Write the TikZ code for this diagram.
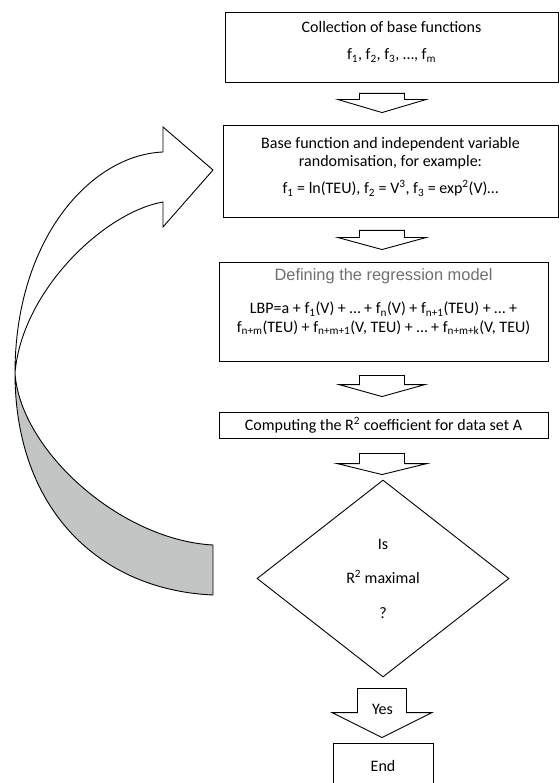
\documentclass[tikz,border=0pt]{standalone}
\usepackage{fontspec}
\setmainfont{Carlito}
\newfontfamily\arialfont{Liberation Sans}
\usetikzlibrary{calc,shapes.geometric}
\definecolor{RibbonGray}{HTML}{C3C5C4}
\definecolor{TitleGray}{HTML}{6F6F6F}

\tikzset{
  flowbox/.style={draw,line width=.9pt,inner sep=0pt},
  flowtext/.style={align=center,inner sep=0pt,font=\fontsize{16}{18.5}\selectfont},
  blockarrow/.style={draw,line width=.9pt,fill=white,line join=miter},
  ribbon/.style={draw,line width=.9pt,line join=miter},
}

% fat arrow between two nodes: [shaft half]{from}{to}{gap below}{gap above}{head length}{head half}
\newcommand{\flowarrow}[7][22.5pt]{%
  \draw[blockarrow] let \p1=(#2.south), \p2=(#3.north), \p3=(axis) in
    (\x3-#1,\y1-#4) -- (\x3+#1,\y1-#4) -- (\x3+#1,\y2+#5+#6)
    -- (\x3+#7,\y2+#5+#6) -- (\x3,\y2+#5) -- (\x3-#7,\y2+#5+#6)
    -- (\x3-#1,\y2+#5+#6) -- cycle;}

\begin{document}
\begin{tikzpicture}[x=1pt,y=-1pt]
  \useasboundingbox (0,0) rectangle (559,783);
  \coordinate (axis) at (382,0);

  % boxes
  \node[flowbox,minimum width=333,minimum height=70] (collect) at (391.5,47) {};
  \node[flowtext] (collecttext) at (391.5,42)
    {Collection of base functions\\[8.5pt]
     f\textsubscript{1}, f\textsubscript{2}, f\textsubscript{3}, …, f\textsubscript{m}};

  \node[flowbox,minimum width=335,minimum height=92] (random) at (390.5,171) {};
  \node[flowtext] (randomtext) at (390.5,167)
    {Base function and independent variable\\
     randomisation, for example:\\[8.5pt]
     f\textsubscript{1} = ln(TEU), f\textsubscript{2} = V\textsuperscript{3},
     f\textsubscript{3} = exp\textsuperscript{2}(V)…};

  \node[flowbox,minimum width=329,minimum height=99] (model) at (383.5,311.5) {};
  \node[flowtext] (modeltext) at (383.5,302)
    {{\arialfont\fontsize{16.4}{18.5}\selectfont\color{TitleGray}Defining the regression model}\\[14.5pt]
     LBP=a + f\textsubscript{1}(V) + … + f\textsubscript{n}(V) + f\textsubscript{n+1}(TEU) + … +\\
     f\textsubscript{n+m}(TEU) + f\textsubscript{n+m+1}(V, TEU) + … + f\textsubscript{n+m+k}(V, TEU)};

  \node[flowbox,flowtext,minimum width=329,minimum height=26] (rsq) at (383.5,425)
    {Computing the R\textsuperscript{2} coefficient for data set A};

  \node[flowbox,flowtext,diamond,minimum width=252,minimum height=197] (decide) at (383,578.5)
    {Is\\[16pt]R\textsuperscript{2} maximal\\[16pt]?};

  \node[flowbox,flowtext,minimum width=100,minimum height=46] (stop) at (383,766) {End};

  % fat arrows
  \flowarrow{collect}{random}{11pt}{12pt}{13pt}{44pt}
  \flowarrow{random}{model}{13pt}{12pt}{12pt}{44pt}
  \flowarrow{model}{rsq}{14pt}{15pt}{12pt}{43pt}
  \flowarrow{rsq}{decide}{15pt}{5pt}{11pt}{45pt}
  \flowarrow[24.5pt]{decide}{stop}{11pt}{5pt}{25pt}{50pt}
  \node[flowtext] (yes) at (382.5,709) {Yes};

  % loop back ribbon
  \draw[ribbon,fill=white] (163,152) -- (163,127) -- (213,170) -- (163,227) -- (163,202)
    .. controls (105,212) and (22,290) .. (15,373)
    .. controls (15,240) and (90,155) .. (163,152) -- cycle;
  \draw[ribbon,fill=RibbonGray] (15,373) .. controls (15,510) and (100,590) .. (213,595)
    -- (213,545) .. controls (120,540) and (20,450) .. (15,373) -- cycle;
\end{tikzpicture}
\end{document}
